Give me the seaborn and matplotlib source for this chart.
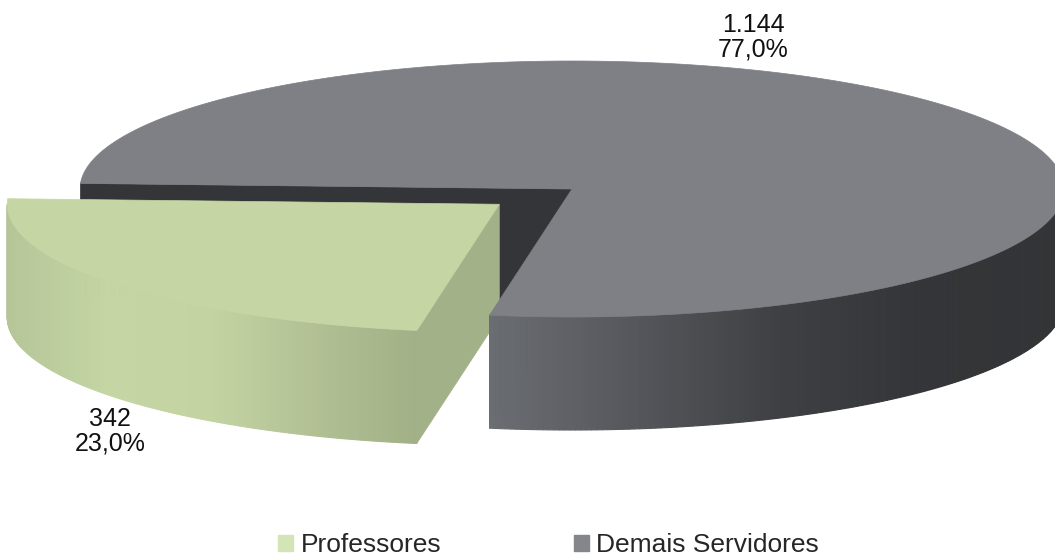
import numpy as np
import matplotlib
matplotlib.use("Agg")
import matplotlib.pyplot as plt
from matplotlib.patches import Patch
import seaborn as sns

# Data
categories = ["Professores", "Demais Servidores"]
values = [342, 1144]
explode = [0.19, 0.0]

# Colours
top_colors = ["#c5d6a4", "#7e8085"]
cut_colors = ["#a3b188", "#343538"]
wall_palettes = [
    ["#b5c598", "#c5d6a4", "#c3d4a2", "#b2c094", "#a2b087"],
    ["#6a6d72", "#55575c", "#3e4043", "#333538", "#333436"],
]
legend_colors = ["#d3e4b7", "#84868b"]

sns.set_theme(style="white")
plt.rcParams['font.family'] = ['Liberation Sans', 'DejaVu Sans']

# Pie geometry (pixel units)
CX, CY = 572, 189
RX, RY = 492, 128
DEPTH = 113
START = 177.5

total = sum(values)
fracs = np.array(values) / total
spans = fracs * 360
starts = START + np.concatenate([[0], np.cumsum(spans)[:-1]])
ends = starts + spans

fig = plt.figure(figsize=(10.55, 5.59), dpi=100)
ax = fig.add_axes([0, 0, 1, 1])
ax.set_xlim(0, 1055)
ax.set_ylim(559, 0)
ax.axis("off")


def rim(cx, cy, t, dz=0.0):
    t = np.radians(t)
    return cx + RX * np.cos(t), cy - RY * np.sin(t) + dz


def slice_center(i):
    mid = np.radians(starts[i] + spans[i] / 2)
    return CX + explode[i] * RX * np.cos(mid), CY - explode[i] * RY * np.sin(mid)


def cut_face(cx, cy, t, color):
    x, y = rim(cx, cy, t)
    ax.fill([cx, x, x, cx], [cy, y, y + DEPTH, cy + DEPTH],
            color=color, lw=0.5, ec=color)


def wall(cx, cy, t0, t1, palette):
    cmap = sns.blend_palette(palette, as_cmap=True)
    for k in range(2):
        lo = max(t0, 180 + 360 * k)
        hi = min(t1, 360 + 360 * k)
        if hi <= lo:
            continue
        ts = np.linspace(lo, hi, 160)
        xs, ys = rim(cx, cy, ts)
        xmin, xmax = xs.min(), xs.max()
        for j in range(len(ts) - 1):
            f = ((xs[j] + xs[j + 1]) / 2 - xmin) / max(xmax - xmin, 1)
            c = cmap(f)
            ax.fill([xs[j], xs[j + 1], xs[j + 1], xs[j]],
                    [ys[j], ys[j + 1], ys[j + 1] + DEPTH, ys[j] + DEPTH],
                    color=c, lw=0.8, ec=c)


def top(cx, cy, t0, t1, color):
    ts = np.linspace(t0, t1, 200)
    xs, ys = rim(cx, cy, ts)
    ax.fill(np.r_[cx, xs], np.r_[cy, ys], color=color, lw=0.5, ec=color)


# big slice cut faces (back)
gx, gy = slice_center(1)
cut_face(gx, gy, starts[1], cut_colors[1])
cut_face(gx, gy, ends[1], cut_colors[1])

# exploded slice
px, py = slice_center(0)
cut_face(px, py, ends[0], cut_colors[0])
wall(px, py, starts[0], ends[0], wall_palettes[0])
top(px, py, starts[0], ends[0], top_colors[0])

# big slice wall and top
wall(gx, gy, starts[1], ends[1], wall_palettes[1])
top(gx, gy, starts[1], ends[1], top_colors[1])


def fmt_int(v):
    return f"{v:,}".replace(",", ".")


def fmt_pct(f):
    return f"{f * 100:.1f}%".replace(".", ",")


label_pos = [(110, 431), (753, 37)]
for i in range(len(values)):
    ax.text(label_pos[i][0], label_pos[i][1],
            f"{fmt_int(values[i])}\n{fmt_pct(fracs[i])}",
            ha="center", va="center", fontsize=18, color="#111111",
            linespacing=1.05)

handles = [Patch(color=c) for c in legend_colors]
fig.legend(handles, categories, loc="center", ncol=2, frameon=False,
           bbox_to_anchor=(0.52, 14 / 559), handlelength=0.57, handleheight=0.57,
           handletextpad=0.3, columnspacing=5.0, fontsize=19)

plt.savefig("out.png", dpi=100)
